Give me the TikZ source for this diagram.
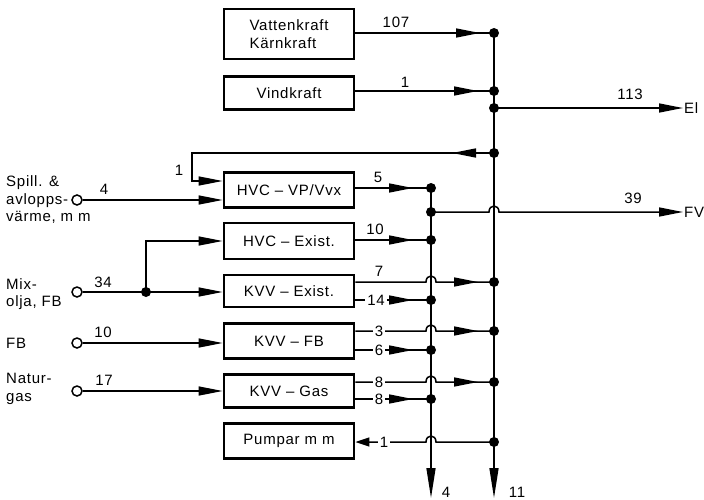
\documentclass[tikz,border=0pt]{standalone}
\usepackage{fontspec}
\setmainfont[LetterSpace=5]{Liberation Sans}
\usetikzlibrary{arrows.meta,decorations.markings}

\newcommand{\hopover}[1]{-- ([xshift=-5pt]#1) .. controls ([shift={(-5pt,8pt)}]#1) and ([shift={(5pt,8pt)}]#1) .. ([xshift=5pt]#1)}

\tikzset{
	plant/.style={draw, line width=2.8pt, minimum width=130pt, inner sep=0pt, align=center, font=\fontsize{15}{17.5}\selectfont},
	wire/.style={line width=1.5pt},
	flow/.style={wire, -{Triangle[length=24pt,width=9pt]}},
	tipat/.style={wire, postaction={decorate}, decoration={markings, mark=at position #1 with {\arrow{Triangle[length=24pt,width=9pt]}}}},
	src/.style={draw, circle, line width=1.5pt, inner sep=0pt, minimum size=10pt, fill=white},
	lbl/.style={font=\fontsize{15}{17.5}\selectfont, inner sep=1pt},
	onl/.style={lbl, fill=white, inner sep=2pt},
}

\begin{document}
\begin{tikzpicture}[x=1pt,y=-1pt]
	\useasboundingbox (0,0) rectangle (704,500);
	
	% plants
	\node[plant, minimum height=50pt, align=left] (vk) at (289,34) {Vattenkraft\\Kärnkraft};
	\node[plant, minimum height=33pt] (vind) at (289,93) {Vindkraft};
	\node[plant, minimum height=35pt] (hvcvp) at (289,190) {HVC -- VP/Vvx};
	\node[plant, minimum height=36pt] (hvcex) at (289,241) {HVC -- Exist.};
	\node[plant, minimum height=32pt] (kvvex) at (289,291) {KVV -- Exist.};
	\node[plant, minimum height=35pt] (kvvfb) at (289,341) {KVV -- FB};
	\node[plant, minimum height=33pt] (kvvgas) at (289,391) {KVV -- Gas};
	\node[plant, minimum height=35pt] (pump) at (289,441) {Pumpar m m};
	
	% bus points
	\coordinate (r1) at (494,33);
	\coordinate (r2) at (494,91);
	\coordinate (r3) at (494,108);
	\coordinate (r4) at (494,153);
	\coordinate (r5) at (494,282);
	\coordinate (r6) at (494,331);
	\coordinate (r7) at (494,382);
	\coordinate (r8) at (494,442);
	\coordinate (rb) at (494,498);
	\coordinate (l1) at (431,188);
	\coordinate (l2) at (431,212);
	\coordinate (l3) at (431,240);
	\coordinate (l4) at (431,300);
	\coordinate (l5) at (431,350);
	\coordinate (l6) at (431,399);
	\coordinate (lb) at (431,498);
	\coordinate (xfv) at (494,212);
	\coordinate (x5) at (431,282);
	\coordinate (x6) at (431,331);
	\coordinate (x7) at (431,382);
	\coordinate (x8) at (431,442);
	\coordinate (ret1) at (192,153);
	\coordinate (ret2) at (192,181);
	
	% buses
	\draw[wire, -{Triangle[length=30pt,width=9pt]}] (r1) -- (rb);
	\draw[wire, -{Triangle[length=30pt,width=9pt]}] (l1) -- (lb);
	\node[lbl] (out4) at (446,492) {4};
	\node[lbl] (out11) at (517,492) {11};
	
	% electricity side
	\draw[tipat=-14pt] (vk.east |- r1) -- (r1);
	\node[lbl] (n107) at (396,22) {107};
	\draw[tipat=-16pt] (vind.east |- r2) -- (r2);
	\node[lbl] (n1a) at (405,82) {1};
	\node[lbl, anchor=west] (el) at (683,108) {El};
	\draw[flow] (r3) -- (el.west);
	\node[lbl] (n113) at (630,94) {113};
	\draw[flow, tipat=42pt] (r4) -- (ret1) -- (ret2) -- (ret2 -| hvcvp.west);
	\node[lbl] (n1b) at (179,170) {1};
	
	% inputs
	\node[lbl, anchor=west, align=left] (spill) at (5,200) {Spill. \&\\avlopps-\\värme, m m};
	\node[src] (s1) at (77,200) {};
	\draw[flow] (s1) -- (s1 -| hvcvp.west);
	\node[lbl] (n4) at (104,189) {4};
	
	\node[lbl, anchor=west, align=left] (mix) at (5,294) {Mix-\\olja, FB};
	\node[src] (s2) at (77,292) {};
	\coordinate (mj) at (146,292);
	\draw[flow] (s2) -- (s2 -| kvvex.west);
	\draw[flow] (mj) -- (mj |- hvcex.west) -- (hvcex.west);
	\node[lbl] (n34) at (103,282) {34};
	
	\node[lbl, anchor=west] (fb) at (5,343) {FB};
	\node[src] (s3) at (77,343) {};
	\draw[flow] (s3) -- (s3 -| kvvfb.west);
	\node[lbl] (n10a) at (103,332) {10};
	
	\node[lbl, anchor=west, align=left] (gas) at (5,389) {Natur-\\gas};
	\node[src] (s4) at (77,391) {};
	\draw[flow] (s4) -- (s4 -| kvvgas.west);
	\node[lbl] (n17) at (104,380) {17};
	
	% heat side
	\draw[tipat=-18pt] (hvcvp.east |- l1) -- (l1);
	\node[lbl] (n5) at (378,177) {5};
	\node[lbl, anchor=west] (fv) at (683,212) {FV};
	\draw[flow] (l2) \hopover{xfv} -- (fv.west);
	\node[lbl] (n39) at (633,198) {39};
	\draw[tipat=-18pt] (hvcex.east |- l3) -- (l3);
	\node[lbl] (n10b) at (375,229) {10};
	
	\draw[tipat=-16pt] (kvvex.east |- r5) \hopover{x5} -- (r5);
	\node[lbl] (n7) at (379,271) {7};
	\draw[tipat=-18pt] (kvvex.east |- l4) -- (l4);
	\node[onl] (n14) at (376,300) {14};
	
	\draw[tipat=-16pt] (kvvfb.east |- r6) \hopover{x6} -- (r6);
	\node[onl] (n3) at (379,331) {3};
	\draw[tipat=-18pt] (kvvfb.east |- l5) -- (l5);
	\node[onl] (n6) at (379,350) {6};
	
	\draw[tipat=-16pt] (kvvgas.east |- r7) \hopover{x7} -- (r7);
	\node[onl] (n8a) at (379,382) {8};
	\draw[tipat=-18pt] (kvvgas.east |- l6) -- (l6);
	\node[onl] (n8b) at (379,399) {8};
	
	\draw[wire, {Triangle[length=14pt,width=9pt]}-] (pump.east |- r8) \hopover{x8} -- (r8);
	\node[onl] (n1c) at (384,442) {1};
	
	% junctions
	\foreach \j in {r1,r2,r3,r4,r5,r6,r7,r8,l1,l2,l3,l4,l5,l6,mj}
		\fill (\j) circle (5pt);
\end{tikzpicture}
\end{document}
